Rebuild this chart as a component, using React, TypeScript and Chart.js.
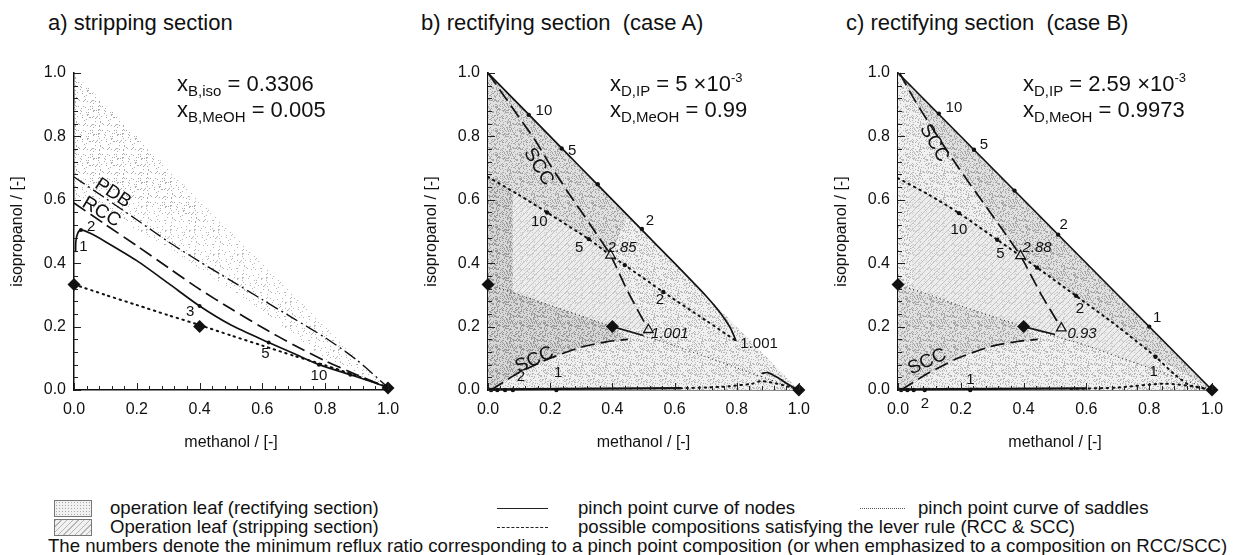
import React, { useEffect, useRef } from "react";
import { Chart, registerables } from "chart.js";

Chart.register(...registerables);

const FONT = '"Liberation Sans", Arial, Helvetica, sans-serif';

// ================= Panel a) stripping section =================
const aNodeCurve = [[0.005,0.435],[0.006,0.47],[0.012,0.495],[0.022,0.505],[0.05,0.495],[0.1,0.468],[0.2,0.408],[0.3,0.337],[0.4,0.265],[0.5,0.205],[0.62,0.15],[0.7,0.115],[0.78,0.08],[0.9,0.042],[1,0.008]];
const aNodeDots = [[0.022,0.505],[0.4,0.265],[0.62,0.15],[0.78,0.08],[0.88,0.048]];
const aRCC = [[0,0.59],[0.1,0.522],[0.2,0.455],[0.3,0.386],[0.4,0.318],[0.5,0.256],[0.6,0.197],[0.7,0.142],[0.8,0.092],[0.9,0.048],[1,0.008]];
const aPDB = [[0,0.672],[0.1,0.605],[0.2,0.537],[0.3,0.468],[0.4,0.405],[0.5,0.345],[0.6,0.285],[0.7,0.225],[0.8,0.165],[0.9,0.095],[1,0.008]];
const aSaddle = [[0,0.333],[0.1,0.3],[0.2,0.268],[0.3,0.236],[0.4,0.205],[0.5,0.172],[0.6,0.14],[0.7,0.108],[0.8,0.078],[0.9,0.045],[1,0.008]];
const aDiamonds = [[0,0.333],[0.4,0.2],[1,0.006]];
const aLeaf = [[0,1],[0.35,0.65],[0.7,0.3],[1,0],[0.85,0.06],[0.6,0.25],[0.3,0.45],[0.1,0.56],[0,0.6]];
const aLeafCore = [[0,1],[0.2,0.8],[0.45,0.5],[0.2,0.6],[0,0.68]];
const aLabels: any[] = [["1",0.03,0.45,15,0],["2",0.055,0.515,15,0],["3",0.37,0.245,15,0],["5",0.61,0.115,15,0],["10",0.78,0.045,15,0],["PDB",0.124,0.621,19,33],["RCC",0.087,0.561,19,31]];

// ================= Panel b) rectifying section (case A) =================
const bNodeCurve = [[0,1],[0.13,0.87],[0.237,0.763],[0.353,0.647],[0.495,0.505],[0.6,0.4],[0.7,0.298],[0.75,0.24],[0.78,0.195],[0.798,0.155]];
const bNodeDots = [[0.131,0.868],[0.237,0.762],[0.353,0.649],[0.495,0.508]];
const bNodeTail = [[0.88,0.052],[0.9,0.055],[0.93,0.04],[0.97,0.015],[1,0]];
const bNodeBottom = [[0,0.002],[0.62,0.006]];
const bSCCTop = [[0,1],[0.05,0.93],[0.1,0.86],[0.15,0.79],[0.2,0.71],[0.26,0.62],[0.33,0.52],[0.394,0.425],[0.45,0.31],[0.516,0.19]];
const bSCCLow = [[0.01,0],[0.05,0.025],[0.1,0.055],[0.2,0.1],[0.3,0.135],[0.38,0.152],[0.45,0.16]];
const bSaddleUp = [[0,0.672],[0.1,0.615],[0.19,0.56],[0.324,0.476],[0.394,0.425],[0.44,0.394],[0.564,0.309],[0.7,0.22],[0.798,0.155]];
const bSaddleDots = [[0.19,0.56],[0.324,0.476],[0.44,0.394],[0.564,0.309]];
const bSaddleLow = [[0,0.333],[0.2,0.267],[0.4,0.2],[0.5,0.17],[0.6,0.14],[0.7,0.105],[0.8,0.07],[0.9,0.035],[1,0]];
const bSaddleBottom = [[0.6,0.005],[0.75,0.01],[0.85,0.02],[0.88,0.028],[0.95,0.015],[1,0]];
const bBottomDots = [[0.01,0],[0.03,0],[0.055,0],[0.08,0],[0.22,0]];
const bLink = [[0.4,0.2],[0.5,0.172]];
const bDiamonds = [[0,0.333],[0.4,0.2],[1,0]];
const bTriangles = [[0.394,0.425],[0.516,0.19]];
const bBase = [[0,0],[1,0],[0,1]];
const bBand = [[0,1],[0.45,0.55],[0.394,0.425],[0.33,0.52],[0.26,0.62],[0.2,0.71],[0.15,0.79],[0.1,0.86],[0.05,0.93]];
const bTopLeft = [[0,1],[0.05,0.93],[0.1,0.86],[0.15,0.79],[0.2,0.71],[0.26,0.62],[0.33,0.52],[0.394,0.425],[0.324,0.476],[0.19,0.56],[0,0.672]];
const bDark = [[0,0.672],[0.08,0.628],[0.08,0.31],[0.2,0.267],[0.4,0.2],[0.45,0.16],[0.38,0.152],[0.3,0.135],[0.2,0.1],[0.1,0.055],[0.05,0.025],[0.01,0],[0,0]];
const bHatch = [[0.08,0.628],[0.19,0.56],[0.324,0.476],[0.394,0.425],[0.45,0.31],[0.516,0.19],[0.4,0.2],[0.2,0.267],[0.08,0.31]];
const bLabels: any[] = [["10",0.18,0.88,15,0],["5",0.271,0.753,15,0],["2",0.521,0.534,15,0],["10",0.165,0.529,15,0],["5",0.293,0.447,15,0],["2",0.553,0.284,15,0],["2.85",0.431,0.448,15,0,true],["1.001",0.585,0.178,15,0,true],["1.001",0.872,0.145,15,0],["2",0.106,0.042,15,0],["1",0.226,0.053,15,0],["SCC",0.163,0.704,19,58],["SCC",0.149,0.095,19,-24]];

// ================= Panel c) rectifying section (case B) =================
const cNodeCurve = [[0,1],[1,0]];
const cNodeDots = [[0.13,0.872],[0.242,0.758],[0.371,0.629],[0.51,0.49],[0.8,0.2]];
const cNodeBottom = [[0,0.002],[0.6,0.005]];
const cSCCTop = [[0.005,1],[0.05,0.92],[0.1,0.84],[0.19,0.705],[0.295,0.558],[0.39,0.423],[0.454,0.305],[0.52,0.195]];
const cSCCLow = [[0.01,0],[0.05,0.025],[0.1,0.055],[0.19,0.1],[0.295,0.137],[0.38,0.153],[0.445,0.16]];
const cSaddleUp = [[0,0.668],[0.1,0.615],[0.194,0.558],[0.316,0.474],[0.39,0.423],[0.443,0.386],[0.567,0.297],[0.7,0.2],[0.82,0.105],[0.88,0.05],[0.93,0.015],[1,0]];
const cSaddleDots = [[0.194,0.558],[0.316,0.474],[0.443,0.386],[0.567,0.297],[0.82,0.105]];
const cSaddleLow = [[0,0.333],[0.1,0.3],[0.2,0.265],[0.3,0.232],[0.4,0.2],[0.5,0.17],[0.6,0.14],[0.7,0.105],[0.8,0.07],[0.9,0.035],[1,0]];
const cSaddleBottom = [[0.55,0.003],[0.7,0.008],[0.85,0.02],[0.95,0.01],[1,0]];
const cBottomDots = [[0.01,0],[0.03,0],[0.05,0],[0.085,0],[0.23,0]];
const cLink = [[0.4,0.2],[0.5,0.175]];
const cDiamonds = [[0,0.333],[0.4,0.2],[1,0]];
const cTriangles = [[0.39,0.423],[0.52,0.195]];
const cBase = [[0,0],[1,0],[0,1]];
const cBand = [[0.005,1],[0,1],[1,0],[0.82,0.105],[0.7,0.2],[0.567,0.297],[0.443,0.386],[0.39,0.423],[0.295,0.558],[0.19,0.705],[0.1,0.84],[0.05,0.92]];
const cHatch = [[0.03,0.652],[0.194,0.558],[0.316,0.474],[0.39,0.423],[0.443,0.386],[0.567,0.297],[0.7,0.2],[0.82,0.105],[0.8,0.07],[0.7,0.105],[0.6,0.14],[0.5,0.17],[0.4,0.2],[0.2,0.265],[0.05,0.317]];
const cLowLeft = [[0,0.333],[0.2,0.265],[0.4,0.2],[0.445,0.16],[0.38,0.153],[0.295,0.137],[0.19,0.1],[0.1,0.055],[0.05,0.025],[0.01,0],[0,0]];
const cLabels: any[] = [["10",0.178,0.889,15,0],["5",0.274,0.774,15,0],["2",0.528,0.521,15,0],["1",0.825,0.226,15,0],["10",0.194,0.505,15,0],["5",0.326,0.429,15,0],["2.88",0.443,0.447,15,0,true],["2",0.579,0.255,15,0],["0.93",0.586,0.177,15,0,true],["1",0.814,0.058,15,0],["1",0.231,0.032,15,0],["2",0.086,-0.044,15,0],["SCC",0.115,0.779,19,60],["SCC",0.093,0.089,19,-24]];

// ================= helpers =================
const pts = (a: number[][]) => a.map(([x, y]) => ({ x, y }));

// texture definitions (background, dot colour, dot density)
const PATTERNS: Record<string, any> = {
  stippleA: { bg: null, fg: "#b8b8b8", d: 0.08 },
  stippleA2: { bg: null, fg: "#acacac", d: 0.1 },
  light: { bg: "#f0f0f0", fg: "#b8b8b8", d: 0.24 },
  medium: { bg: "#e0e0e0", fg: "#a6a6a6", d: 0.3 },
  dark: { bg: "#d6d6d6", fg: "#999999", d: 0.33 },
  hatch: { bg: "#ececec", fg: "#c4c4c4", hatch: true },
};

function texHash(i: number, j: number) {
  let h = Math.imul(i + 11, 73856093) ^ Math.imul(j + 7, 19349663);
  h = Math.imul(h ^ (h >>> 13), 1274126177);
  h ^= h >>> 16;
  return ((h >>> 0) % 1000) / 1000;
}

function makePattern(kind: string): any {
  const spec = PATTERNS[kind];
  const n = 24;
  const c = document.createElement("canvas");
  c.width = n; c.height = n;
  const g = c.getContext("2d")!;
  if (spec.bg) { g.fillStyle = spec.bg; g.fillRect(0, 0, n, n); }
  if (spec.hatch) {
    g.fillStyle = "#cdcdcd";
    for (let i = 0; i < n; i++) for (let j = 0; j < n; j++) if (texHash(i, j) < 0.12) g.fillRect(i, j, 1, 1);
    g.strokeStyle = spec.fg; g.lineWidth = 1;
    for (let k = -n; k <= n; k += 6) { g.beginPath(); g.moveTo(k, n); g.lineTo(k + n, 0); g.stroke(); }
  } else {
    g.fillStyle = spec.fg;
    for (let i = 0; i < n; i++) for (let j = 0; j < n; j++) if (texHash(i, j) < spec.d) g.fillRect(i, j, 1, 1);
  }
  return g.createPattern(c, "repeat") || spec.bg || "#eee";
}

const SOLID = { borderColor: "#111", borderWidth: 1.7 };
const DASH = { borderColor: "#111", borderWidth: 1.7, borderDash: [14, 6] };
const DASHDOT = { borderColor: "#111", borderWidth: 1.4, borderDash: [13, 4, 2, 4] };
const DOTC = { borderColor: "#111", borderWidth: 2, borderDash: [1.5, 4.5], borderCapStyle: "round" };
const DOTF = { borderColor: "#333", borderWidth: 1.1, borderDash: [1, 3] };

function line(data: number[][], style: any, tension = 0.25) {
  return { data: pts(data), showLine: true, pointRadius: 0, tension, fill: false, clip: false, order: 5, ...style };
}
// layer: larger = further back
function poly(data: number[][], pattern: any, layer: number) {
  return { data: pts(data), showLine: true, pointRadius: 0, borderWidth: 0, borderColor: "rgba(0,0,0,0)", backgroundColor: pattern, fill: "shape", tension: 0, order: 10 + layer };
}
function marks(data: number[][], style: string, r: number, hollow = false) {
  return {
    data: pts(data), showLine: false, pointStyle: style, pointRadius: r, clip: false, order: 1,
    backgroundColor: hollow ? "rgba(255,255,255,0.7)" : "#111", borderColor: "#111", borderWidth: hollow ? 1.3 : 0,
  };
}

function buildConfig(datasets: any[], labels: any[], yWidth: number, padRight: number) {
  const decor = {
    id: "decor",
    afterDraw(chart: any) {
      const { ctx, chartArea: ca, scales } = chart;
      const xs = scales.x, ys = scales.y;
      ctx.save();
      ctx.strokeStyle = "#222"; ctx.lineWidth = 1;
      for (let i = 0; i <= 25; i++) {
        const v = i / 25;
        const len = i % 5 === 0 ? 7 : 4;
        const px = Math.round(xs.getPixelForValue(v)) + 0.5;
        ctx.beginPath(); ctx.moveTo(px, ca.bottom); ctx.lineTo(px, ca.bottom - len); ctx.stroke();
        const py = Math.round(ys.getPixelForValue(v)) + 0.5;
        ctx.beginPath(); ctx.moveTo(ca.left, py); ctx.lineTo(ca.left + len, py); ctx.stroke();
      }
      ctx.fillStyle = "#111";
      ctx.textAlign = "center"; ctx.textBaseline = "middle";
      for (const [t, x, y, size, rot, italic] of labels) {
        ctx.save();
        ctx.translate(xs.getPixelForValue(x), ys.getPixelForValue(y));
        ctx.rotate((rot * Math.PI) / 180);
        ctx.font = `${italic ? "italic " : ""}${size}px ${FONT}`;
        ctx.fillText(t, 0, 0);
        ctx.restore();
      }
      ctx.font = `16px ${FONT}`;
      ctx.fillText("methanol / [-]", (ca.left + ca.right) / 2, ca.bottom + 53);
      ctx.save();
      ctx.translate(ca.left - 56, (ca.top + ca.bottom) / 2);
      ctx.rotate(-Math.PI / 2);
      ctx.fillText("isopropanol / [-]", 0, 0);
      ctx.restore();
      ctx.restore();
    },
  };
  const tickFont = { size: 16, family: FONT };
  return {
    type: "scatter",
    data: { datasets },
    options: {
      animation: false, responsive: false, events: [],
      layout: { padding: { top: 33, right: padRight, left: 0, bottom: 0 } },
      plugins: { legend: { display: false }, tooltip: { enabled: false } },
      scales: {
        x: {
          type: "linear", min: 0, max: 1,
          grid: { display: false, drawTicks: false },
          border: { display: true, color: "#111", width: 1.5 },
          ticks: { stepSize: 0.2, padding: 10, color: "#111", font: tickFont, maxRotation: 0, autoSkip: false, callback: (v: any) => Number(v).toFixed(1) },
          afterFit: (s: any) => { s.height = 70; },
        },
        y: {
          type: "linear", min: 0, max: 1,
          grid: { display: false, drawTicks: false },
          border: { display: true, color: "#111", width: 1.5 },
          ticks: { stepSize: 0.2, padding: 8, color: "#111", font: tickFont, autoSkip: false, callback: (v: any) => Number(v).toFixed(1) },
          afterFit: (s: any) => { s.width = yWidth; },
        },
      },
    },
    plugins: [decor],
  };
}

function configA() {
  return buildConfig([
    poly(aLeaf, makePattern("stippleA"), 5),
    poly(aLeafCore, makePattern("stippleA2"), 4),
    line(aNodeCurve, SOLID),
    line(aRCC, DASH),
    line(aPDB, DASHDOT),
    line(aSaddle, DOTC),
    marks(aNodeDots, "circle", 2),
    marks(aDiamonds, "rectRot", 6.5),
  ], aLabels, 74, 22);
}

function configB() {
  return buildConfig([
    poly(bBase, makePattern("light"), 5),
    poly(bBand, makePattern("medium"), 4),
    poly(bTopLeft, makePattern("medium"), 4),
    poly(bDark, makePattern("dark"), 3),
    poly(bHatch, makePattern("hatch"), 2),
    line(bNodeCurve, SOLID, 0.15),
    line(bNodeTail, SOLID),
    line(bNodeBottom, { ...SOLID, borderWidth: 2.4 }, 0),
    line(bSCCTop, DASH),
    line(bSCCLow, DASH),
    line(bSaddleUp, DOTC),
    line(bSaddleLow, DOTF),
    line(bSaddleBottom, DOTC),
    line(bLink, SOLID, 0),
    marks(bNodeDots, "circle", 2.2),
    marks(bSaddleDots, "circle", 2.2),
    marks(bBottomDots, "circle", 2.2),
    marks(bTriangles, "triangle", 5.5, true),
    marks(bDiamonds, "rectRot", 6.5),
  ], bLabels, 78, 18);
}

function configC() {
  return buildConfig([
    poly(cBase, makePattern("light"), 5),
    poly(cBand, makePattern("medium"), 4),
    poly(cLowLeft, makePattern("medium"), 4),
    poly(cHatch, makePattern("hatch"), 2),
    line(cNodeCurve, SOLID, 0),
    line(cNodeBottom, { ...SOLID, borderWidth: 2.4 }, 0),
    line(cSCCTop, DASH),
    line(cSCCLow, DASH),
    line(cSaddleUp, DOTC),
    line(cSaddleLow, DOTF),
    line(cSaddleBottom, DOTC),
    line(cLink, SOLID, 0),
    marks(cNodeDots, "circle", 2.2),
    marks(cSaddleDots, "circle", 2.2),
    marks(cBottomDots, "circle", 2.2),
    marks(cTriangles, "triangle", 5.5, true),
    marks(cDiamonds, "rectRot", 6.5),
  ], cLabels, 78, 26);
}

function Panel({ left, width, build }: { left: number; width: number; build: () => any }) {
  const ref = useRef<HTMLCanvasElement>(null);
  useEffect(() => {
    const chart = new Chart(ref.current as HTMLCanvasElement, build());
    return () => chart.destroy();
  }, []);
  return <canvas ref={ref} width={width} height={420} style={{ position: "absolute", left, top: 40, width, height: 420 }} />;
}

function Formula({ left, top, sub, value, sup }: { left: number; top: number; sub: string; value: string; sup?: string }) {
  return (
    <div style={{ position: "absolute", left, top, fontSize: 22, lineHeight: "26px", whiteSpace: "pre", color: "#111" }}>
      x<span style={{ fontSize: 15, position: "relative", top: 5 }}>{sub}</span>{" = " + value}
      {sup ? <span style={{ fontSize: 13, position: "relative", top: -9 }}>{sup}</span> : null}
    </div>
  );
}

const abs = (left: number, top: number, extra: any = {}) => ({ position: "absolute" as const, left, top, whiteSpace: "pre" as const, ...extra });

export default function App() {
  const legendFont = { fontSize: 18.6, lineHeight: "20px", color: "#111" };
  return (
    <div style={{ position: "absolute", left: 0, top: 0, width: 1238, height: 555, background: "#fff", overflow: "hidden", fontFamily: FONT, color: "#111" }}>
      <div style={abs(48, 10, { fontSize: 22, lineHeight: "26px" })}>a) stripping section</div>
      <div style={abs(421, 10, { fontSize: 22, lineHeight: "26px" })}>b) rectifying section  (case A)</div>
      <div style={abs(846, 10, { fontSize: 22, lineHeight: "26px" })}>c) rectifying section  (case B)</div>

      <Panel left={0} width={410} build={configA} />
      <Panel left={410} width={410} build={configB} />
      <Panel left={820} width={418} build={configC} />

      <Formula left={177} top={71} sub="B,iso" value="0.3306" />
      <Formula left={177} top={97} sub="B,MeOH" value="0.005" />
      <Formula left={610} top={71} sub="D,IP" value="5 ×10" sup="-3" />
      <Formula left={610} top={97} sub="D,MeOH" value="0.99" />
      <Formula left={1023} top={71} sub="D,IP" value="2.59 ×10" sup="-3" />
      <Formula left={1023} top={97} sub="D,MeOH" value="0.9973" />

      <div style={abs(54, 500, { width: 36, height: 15, border: "1px solid #777", backgroundColor: "#f1f1f1", backgroundImage: "radial-gradient(#aaa 0.7px, transparent 0.9px)", backgroundSize: "3px 3px" })} />
      <div style={abs(110, 498, legendFont)}>operation leaf (rectifying section)</div>
      <div style={abs(497, 508, { width: 51, borderTop: "1.5px solid #222" })} />
      <div style={abs(578, 498, legendFont)}>pinch point curve of nodes</div>
      <div style={abs(860, 508, { width: 45, borderTop: "1px dotted #555" })} />
      <div style={abs(918, 498, legendFont)}>pinch point curve of saddles</div>

      <div style={abs(54, 519, { width: 36, height: 15, border: "1px solid #777", backgroundColor: "#f1f1f1", backgroundImage: "repeating-linear-gradient(-45deg, #f1f1f1 0px, #f1f1f1 3px, #b5b5b5 3px, #b5b5b5 4px)" })} />
      <div style={abs(110, 517, legendFont)}>Operation leaf (stripping section)</div>
      <div style={abs(497, 527, { width: 51, borderTop: "1.5px dashed #222" })} />
      <div style={abs(578, 517, legendFont)}>possible compositions satisfying the lever rule (RCC &amp; SCC)</div>

      <div style={abs(48, 536, legendFont)}>The numbers denote the minimum reflux ratio corresponding to a pinch point composition (or when emphasized to a composition on RCC/SCC)</div>
    </div>
  );
}
